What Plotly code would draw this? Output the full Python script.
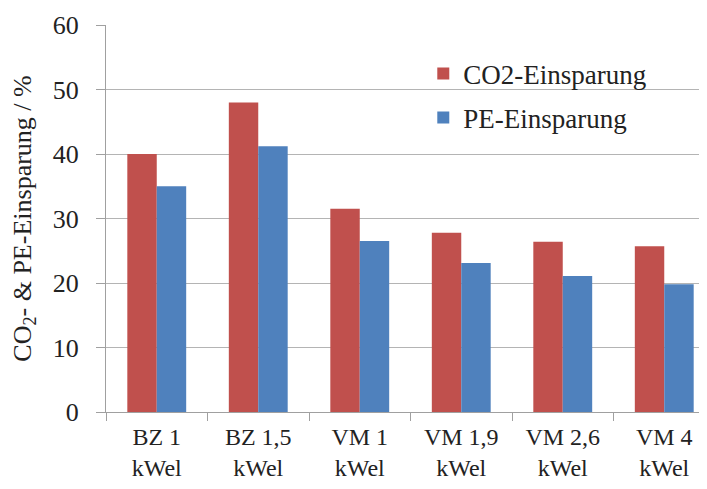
import plotly.graph_objects as go

# data
categories = ["BZ 1<br>kWel", "BZ 1,5<br>kWel", "VM 1<br>kWel",
              "VM 1,9<br>kWel", "VM 2,6<br>kWel", "VM 4<br>kWel"]
co2_savings = [40.0, 48.0, 31.5, 27.8, 26.4, 25.7]
pe_savings = [35.0, 41.2, 26.5, 23.1, 21.1, 19.8]

FONT = "Liberation Serif"
RED = "#C0504D"
BLUE = "#4F81BD"

fig = go.Figure()
fig.add_trace(go.Bar(name="CO2-Einsparung", x=categories, y=co2_savings,
                     marker=dict(color=RED, line=dict(width=0)),
                     legendgroup="co2"))
fig.add_trace(go.Bar(name="PE-Einsparung", x=categories, y=pe_savings,
                     marker=dict(color=BLUE, line=dict(width=0)),
                     legendgroup="pe"))

# the page body shifts the figure by 8px, margins are trimmed for that
fig.update_layout(
    width=707, height=489,
    barmode="group", bargap=0.42, bargroupgap=0,
    plot_bgcolor="white", paper_bgcolor="white",
    margin=dict(l=98, r=0, t=17, b=85),
    font=dict(family=FONT, size=26, color="#222"),
    showlegend=True,
    legend=dict(x=0.521, y=0.937, xanchor="left", yanchor="top",
                font=dict(size=27, family=FONT, color="#222"),
                bgcolor="rgba(0,0,0,0)", traceorder="grouped",
                tracegroupgap=6, itemwidth=30),
)
fig.update_yaxes(range=[0, 60], dtick=10, showgrid=True, gridcolor="#b4b4b4",
                 gridwidth=1.3, showline=True, linecolor="#a0a0a0", linewidth=1.3,
                 ticks="outside", ticklen=9, tickcolor="#a0a0a0",
                 tickfont=dict(family=FONT, size=26), ticklabelstandoff=12,
                 title=dict(text="CO<sub>2</sub>- & PE-Einsparung / %",
                            font=dict(size=26, family=FONT), standoff=14),
                 zeroline=False)
fig.update_xaxes(showline=True, linecolor="#a0a0a0", linewidth=1.3,
                 ticks="outside", ticklen=8, tickcolor="#a0a0a0",
                 tickfont=dict(family=FONT, size=24), ticklabelstandoff=3,
                 tickson="boundaries")

fig.write_html("out.html")
